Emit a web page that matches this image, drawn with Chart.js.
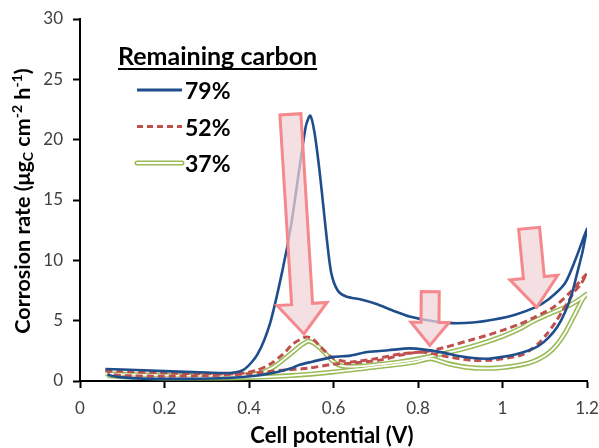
<!DOCTYPE html>
<html>
<head>
<meta charset="utf-8">
<script src="https://cdn.jsdelivr.net/npm/chart.js@4.4.1/dist/chart.umd.min.js"></script>
<style>
  html, body { margin: 0; background: #fff; }
</style>
</head>
<body>
<canvas id="chart" width="599" height="448"></canvas>
<script>
/* ── Data ── */
const xTicks = [0, 0.2, 0.4, 0.6, 0.8, 1, 1.2];
const yTicks = [0, 5, 10, 15, 20, 25, 30];
const legendTitle = "Remaining carbon";
const seriesNames = ["79%", "52%", "37%"];

// 79% remaining carbon: anodic sweep, then back
const potential79 = [0.06, 0.1, 0.2, 0.3, 0.36, 0.39, 0.42, 0.45, 0.48, 0.5, 0.52, 0.535, 0.545, 0.555, 0.566, 0.575, 0.585, 0.595, 0.61, 0.63, 0.665, 0.7, 0.74, 0.78, 0.83, 0.88, 0.93, 0.98, 1.03, 1.077, 1.11, 1.148, 1.172, 1.2,
  1.19, 1.175, 1.164, 1.148, 1.13, 1.109, 1.085, 1.06, 1.03, 1.0, 0.966, 0.93, 0.9, 0.86, 0.815, 0.78, 0.73, 0.68, 0.64, 0.6, 0.55, 0.52, 0.5, 0.467, 0.42, 0.35, 0.25, 0.15, 0.1, 0.065];
const rate79 = [1.0, 0.95, 0.82, 0.7, 0.68, 1.0, 2.2, 4.8, 9.3, 13.0, 17.8, 21.2, 22.0, 20.6, 17.7, 14.8, 11.5, 8.9, 7.5, 7.0, 6.75, 6.4, 5.85, 5.35, 5.0, 4.8, 4.85, 5.1, 5.5, 6.1, 6.8, 8.1, 10.0, 12.6,
  10.8, 8.7, 7.2, 5.7, 4.5, 3.6, 2.9, 2.5, 2.2, 2.0, 1.85, 1.9, 2.05, 2.35, 2.6, 2.7, 2.55, 2.4, 2.1, 2.0, 1.6, 1.35, 1.05, 0.75, 0.45, 0.25, 0.18, 0.2, 0.3, 0.5];

// 52% remaining carbon
const potential52 = [0.06, 0.1, 0.2, 0.3, 0.38, 0.42, 0.45, 0.48, 0.505, 0.535, 0.55, 0.565, 0.58, 0.594, 0.615, 0.642, 0.7, 0.76, 0.82, 0.86, 0.92, 0.96, 1.0, 1.04, 1.077, 1.12, 1.156, 1.2,
  1.185, 1.17, 1.156, 1.14, 1.124, 1.105, 1.085, 1.065, 1.045, 1.0, 0.974, 0.926, 0.871, 0.808, 0.76, 0.713, 0.65, 0.6, 0.539, 0.48, 0.4, 0.3, 0.2, 0.1, 0.065];
const rate52 = [0.85, 0.8, 0.68, 0.6, 0.62, 0.9, 1.4, 2.2, 3.1, 3.65, 3.5, 3.0, 2.45, 2.0, 1.7, 1.58, 1.85, 2.25, 2.45, 2.75, 3.35, 3.75, 4.2, 4.7, 5.3, 6.1, 7.2, 8.9,
  8.0, 7.4, 6.6, 5.7, 4.8, 3.9, 3.1, 2.55, 2.15, 1.85, 1.72, 1.72, 2.0, 2.4, 2.15, 1.75, 1.5, 1.4, 1.05, 0.9, 0.6, 0.45, 0.4, 0.45, 0.6];

// 37% remaining carbon
const potential37 = [0.06, 0.15, 0.25, 0.35, 0.42, 0.46, 0.5, 0.525, 0.54, 0.555, 0.575, 0.595, 0.615, 0.65, 0.7, 0.76, 0.83, 0.9, 0.95, 1.0, 1.045, 1.07, 1.12, 1.148, 1.175, 1.2,
  1.19, 1.178, 1.165, 1.15, 1.135, 1.118, 1.1, 1.075, 1.045, 1.0, 0.966, 0.92, 0.87, 0.83, 0.79, 0.7, 0.6, 0.5, 0.4, 0.3, 0.2, 0.1, 0.065];
const rate37 = [0.6, 0.5, 0.45, 0.45, 0.6, 1.2, 2.3, 3.0, 3.3, 3.1, 2.5, 1.75, 1.3, 1.2, 1.35, 1.6, 2.05, 2.6, 3.1, 3.7, 4.4, 4.9, 5.7, 6.1, 6.6, 7.2,
  6.8, 6.0, 5.1, 4.1, 3.3, 2.6, 2.1, 1.65, 1.35, 1.12, 1.05, 1.12, 1.45, 1.85, 1.55, 1.15, 0.75, 0.45, 0.3, 0.25, 0.25, 0.35, 0.45];

// highlight arrows: tail -> tip in data units
const arrows = [
  { from: [0.498, 22.1], to: [0.53, 3.9], shaft: 21, head: 50, headLen: 30 },
  { from: [0.829, 7.4], to: [0.828, 2.95], shaft: 18, head: 38, headLen: 23 },
  { from: [1.063, 12.65], to: [1.081, 6.1], shaft: 21, head: 48, headLen: 30 },
];

/* ── Styles ── */
const FONT = "Lato, 'Open Sans', sans-serif";
const BLUE = "#1f4e8c";
const RED = "#c0504d";
const GREEN = "#9bbb59";

const toPoints = (xs, ys) => xs.map((x, i) => ({ x, y: ys[i] }));

function lineSet(label, xs, ys, extra) {
  return Object.assign({
    label,
    data: toPoints(xs, ys),
    showLine: true,
    pointRadius: 0,
    tension: 0.25,
    fill: false,
  }, extra);
}

/* ── Arrows, axis titles, legend ── */
function drawArrow(ctx, x1, y1, x2, y2, shaft, head, headLen) {
  const ang = Math.atan2(y2 - y1, x2 - x1);
  const len = Math.hypot(x2 - x1, y2 - y1);
  const s = shaft / 2, h = head / 2, b = len - headLen;
  ctx.save();
  ctx.translate(x1, y1);
  ctx.rotate(ang);
  ctx.beginPath();
  ctx.moveTo(0, -s);
  ctx.lineTo(b, -s);
  ctx.lineTo(b, -h);
  ctx.lineTo(len, 0);
  ctx.lineTo(b, h);
  ctx.lineTo(b, s);
  ctx.lineTo(0, s);
  ctx.closePath();
  ctx.fillStyle = "rgba(240,212,215,0.72)";
  ctx.fill();
  ctx.lineWidth = 3;
  ctx.lineJoin = "miter";
  ctx.strokeStyle = "#f4888c";
  ctx.stroke();
  ctx.restore();
}

function drawRich(ctx, parts, cx, cy, rotate) {
  ctx.save();
  ctx.translate(cx, cy);
  if (rotate) ctx.rotate(-Math.PI / 2);
  let total = 0;
  parts.forEach(p => { ctx.font = p.font; p.w = ctx.measureText(p.text).width; total += p.w; });
  let x = -total / 2;
  ctx.textBaseline = "middle";
  ctx.textAlign = "left";
  ctx.fillStyle = "#000";
  parts.forEach(p => {
    ctx.font = p.font;
    ctx.fillText(p.text, x, p.dy || 0);
    x += p.w;
  });
  ctx.restore();
}

const decorations = {
  id: "decorations",
  afterDatasetsDraw(chart) {
    const { ctx, scales: { x, y } } = chart;
    arrows.forEach(a => {
      drawArrow(ctx,
        x.getPixelForValue(a.from[0]), y.getPixelForValue(a.from[1]),
        x.getPixelForValue(a.to[0]), y.getPixelForValue(a.to[1]),
        a.shaft, a.head, a.headLen);
    });
  },
  afterDraw(chart) {
    const ctx = chart.ctx;
    const big = `bold 21.5px ${FONT}`;
    const small = `bold 14px ${FONT}`;

    // axis titles
    drawRich(ctx, [{ text: "Cell potential (V)", font: `bold 22px ${FONT}` }], 332, 436, false);
    drawRich(ctx, [
      { text: "Corrosion rate (μg", font: big },
      { text: "C", font: small, dy: 5 },
      { text: " cm", font: big },
      { text: "-2", font: small, dy: -6 },
      { text: " h", font: big },
      { text: "-1", font: small, dy: -6 },
      { text: ")", font: big },
    ], 23, 201, true);

    // legend
    ctx.save();
    ctx.fillStyle = "#000";
    ctx.textBaseline = "alphabetic";
    ctx.textAlign = "left";
    ctx.font = `bold 25px ${FONT}`;
    ctx.fillText(legendTitle, 118, 65);
    const tw = ctx.measureText(legendTitle).width;
    ctx.fillRect(118, 68, tw, 2);

    const rows = [90, 126.5, 163];
    ctx.font = `bold 23px ${FONT}`;
    seriesNames.forEach((name, i) => {
      const ly = rows[i];
      ctx.beginPath();
      ctx.moveTo(137, ly);
      ctx.lineTo(182, ly);
      ctx.setLineDash(i === 1 ? [6, 4] : []);
      ctx.lineCap = i === 2 ? "round" : "butt";
      ctx.lineWidth = i === 2 ? 5 : 3;
      ctx.strokeStyle = [BLUE, RED, GREEN][i];
      ctx.stroke();
      if (i === 2) {
        ctx.lineWidth = 1.8;
        ctx.strokeStyle = "#fff";
        ctx.stroke();
      }
      ctx.setLineDash([]);
      ctx.fillText(name, 185, ly + 9);
    });
    ctx.restore();
  },
};

/* ── Chart ── */
new Chart(document.getElementById("chart"), {
  type: "scatter",
  data: {
    datasets: [
      lineSet(seriesNames[0], potential79, rate79, { borderColor: BLUE, borderWidth: 2.6, order: 0 }),
      lineSet(seriesNames[1], potential52, rate52, { borderColor: RED, borderWidth: 3, borderDash: [7, 4], order: 1 }),
      lineSet(seriesNames[2] + " inner", potential37, rate37, { borderColor: "#fff", borderWidth: 1.8, order: 2 }),
      lineSet(seriesNames[2], potential37, rate37, { borderColor: GREEN, borderWidth: 5, order: 3 }),
    ],
  },
  options: {
    responsive: false,
    animation: false,
    devicePixelRatio: 1,
    layout: { padding: { top: 19, right: 12, left: 0, bottom: 0 } },
    plugins: {
      legend: { display: false },
      tooltip: { enabled: false },
    },
    scales: {
      x: {
        type: "linear",
        min: 0,
        max: 1.2,
        afterBuildTicks: s => { s.ticks = xTicks.map(v => ({ value: v })); },
        afterFit: s => { s.height = 67; s.paddingRight = 0; s.paddingLeft = 0; },
        ticks: {
          font: { family: FONT, size: 17 },
          color: "#404040",
          padding: 10,
          maxRotation: 0,
          callback: v => String(v),
        },
        grid: { drawOnChartArea: false, tickLength: 7, tickWidth: 2, tickColor: "#000" },
        border: { color: "#000", width: 2 },
      },
      y: {
        min: 0,
        max: 30,
        afterBuildTicks: s => { s.ticks = yTicks.map(v => ({ value: v })); },
        afterFit: s => { s.width = 80; s.paddingTop = 0; s.paddingBottom = 0; },
        ticks: {
          font: { family: FONT, size: 17 },
          color: "#404040",
          padding: 10,
        },
        grid: { drawOnChartArea: false, tickLength: 7, tickWidth: 2, tickColor: "#000" },
        border: { color: "#000", width: 2 },
      },
    },
  },
  plugins: [decorations],
});
</script>
</body>
</html>
